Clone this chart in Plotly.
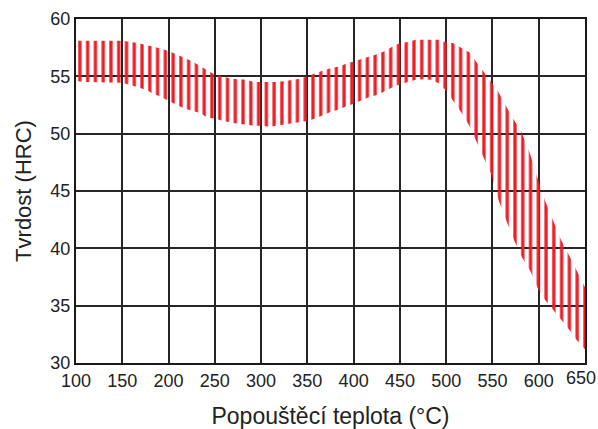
import plotly.graph_objects as go

# Tempering curve: hardness band (upper / lower limit) vs. tempering temperature
temp_upper = [100, 125, 150, 159, 167, 176, 183, 192, 200, 209, 217, 226, 234, 242, 251, 259,
              267, 276, 284, 292, 301, 309, 317, 326, 334, 342, 350, 359, 367, 375, 384, 392,
              400, 409, 417, 426, 434, 442, 450, 459, 467, 475, 483, 492, 500, 507, 516, 525,
              533, 541, 548, 556, 564, 572, 581, 590, 598, 607, 616, 624, 633, 641, 650]
hrc_upper = [58.1, 58.1, 58.1, 58.0, 57.9, 57.7, 57.6, 57.4, 57.2, 56.9, 56.6, 56.3, 55.9, 55.5, 55.1, 55.0,
             54.8, 54.75, 54.7, 54.5, 54.5, 54.5, 54.5, 54.6, 54.7, 54.8, 55.0, 55.3, 55.5, 55.7, 55.85, 56.1,
             56.3, 56.5, 56.7, 56.95, 57.2, 57.6, 57.9, 58.0, 58.2, 58.2, 58.2, 58.2, 57.95, 57.9, 57.5, 57.1,
             56.2, 55.3, 54.5, 53.7, 52.5, 51.35, 50.2, 48.4, 46.3, 44.1, 42.35, 40.75, 39.35, 38.0, 36.6]

temp_lower = [100, 109, 150, 159, 167, 176, 183, 192, 200, 209, 217, 226, 234, 242, 251, 259,
              267, 276, 284, 292, 301, 309, 317, 326, 334, 342, 350, 359, 367, 375, 384, 392,
              400, 409, 417, 426, 434, 442, 450, 459, 467, 475, 483, 492, 500, 507, 516, 525,
              533, 541, 549, 557, 566, 574, 582, 591, 599, 607, 616, 624, 633, 641, 650]
hrc_lower = [54.6, 54.5, 54.45, 54.25, 54.05, 53.8, 53.5, 53.2, 52.9, 52.5, 52.2, 52.0, 51.8, 51.4, 51.3, 51.1,
             51.0, 50.85, 50.8, 50.7, 50.7, 50.6, 50.7, 50.8, 50.85, 51.0, 51.1, 51.35, 51.6, 51.9, 52.1, 52.4,
             52.6, 52.9, 53.2, 53.4, 53.7, 54.05, 54.3, 54.5, 54.7, 54.75, 54.7, 54.4, 53.75, 52.9, 51.9, 50.7,
             49.3, 47.8, 46.4, 44.1, 42.2, 40.6, 39.2, 38.0, 36.5, 35.5, 34.6, 33.8, 32.9, 32.0, 31.2]

x_ticks = [100, 150, 200, 250, 300, 350, 400, 450, 500, 550, 600, 650]
y_ticks = [30, 35, 40, 45, 50, 55, 60]

RED = "#EE1C25"
FONT = "Liberation Sans, Arial, sans-serif"
TEXT = "#222222"
TICK_SIZE = 18

# closed outline of the band: upper limit left->right, lower limit right->left
band_x = temp_upper + temp_lower[::-1]
band_y = hrc_upper + hrc_lower[::-1]

fig = go.Figure()
fig.add_trace(go.Scatter(
    x=band_x, y=band_y,
    mode="lines",
    line=dict(width=0, color=RED),
    fill="toself",
    fillcolor="rgba(0,0,0,0)",
    fillpattern=dict(shape="|", fgcolor=RED, bgcolor="rgba(0,0,0,0)",
                     size=7.77, solidity=0.42, fillmode="replace"),
    hoverinfo="skip",
    showlegend=False,
))

axis_common = dict(
    showgrid=True, gridcolor="#262626", gridwidth=1.5,
    showline=True, linecolor="#1a1a1a", linewidth=2, mirror=True,
    zeroline=False, ticks="", automargin=False,
    tickfont=dict(family=FONT, size=TICK_SIZE, color=TEXT),
)

# the last x label sits at the right edge of the page; it is drawn separately,
# nudged inward so it stays fully visible
x_ticktext = [str(v) for v in x_ticks[:-1]] + [""]

fig.update_xaxes(range=[100, 650], tickvals=x_ticks, ticktext=x_ticktext,
                 title=dict(text="Popouštěcí teplota (°C)", standoff=20,
                            font=dict(family=FONT, size=23, color=TEXT)),
                 **axis_common)
fig.update_yaxes(range=[30, 60], tickvals=y_ticks, ticktext=[str(v) for v in y_ticks],
                 title=dict(text="Tvrdost (HRC)", standoff=13,
                            font=dict(family=FONT, size=22, color=TEXT)),
                 **axis_common)

fig.add_annotation(
    x=x_ticks[-1], y=0, xref="x", yref="paper",
    text=str(x_ticks[-1]), showarrow=False,
    xanchor="center", yanchor="top", xshift=-4, yshift=-3,
    font=dict(family=FONT, size=TICK_SIZE, color=TEXT),
)

fig.update_layout(
    width=598, height=429,
    margin=dict(l=76, r=13, t=19, b=66),
    plot_bgcolor="white", paper_bgcolor="white",
)

fig.write_html("out.html")
